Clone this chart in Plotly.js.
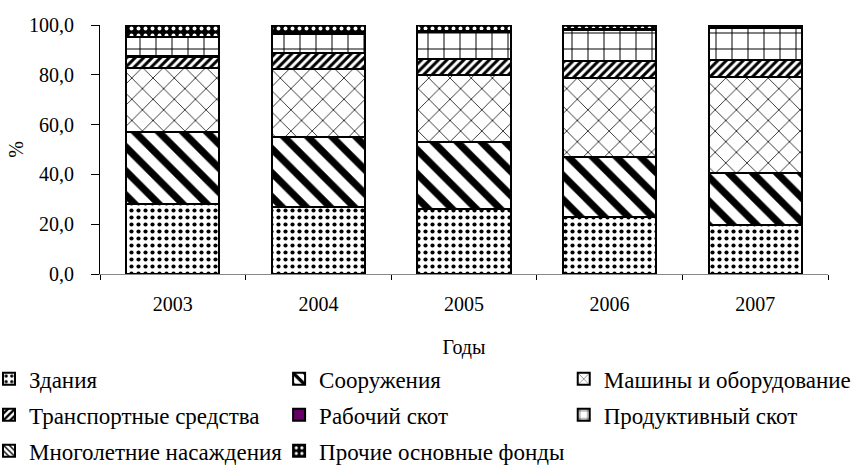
<!DOCTYPE html>
<html>
<head>
<meta charset="utf-8">
<script src="https://cdn.plot.ly/plotly-3.0.1.min.js"></script>
<style>html,body{margin:0;padding:0;background:#fff;overflow:hidden;}#chart{width:854px;height:472px;}</style>
</head>
<body>
<div id="chart"></div>
<script>
const years = ['2003', '2004', '2005', '2006', '2007'];
const seriesNames = ['Здания', 'Сооружения', 'Машины и оборудование', 'Транспортные средства',
  'Рабочий скот', 'Продуктивный скот', 'Многолетние насаждения', 'Прочие основные фонды'];
const zdaniya = [28.1, 26.8, 26.0, 22.7, 19.8];
const sooruzheniya = [28.9, 28.4, 26.9, 24.1, 20.7];
const mashiny = [25.9, 27.2, 27.0, 32.1, 38.8];
const transport = [4.4, 6.2, 6.5, 6.7, 6.7];
const rabochiySkot = [0.1, 0.1, 0.1, 0.1, 0.1];
const produktivnyySkot = [7.6, 7.7, 10.8, 12.4, 12.6];
const mnogoletnie = [0.3, 0.3, 0.3, 0.3, 0.3];
const prochie = [4.7, 3.3, 2.4, 1.6, 1.0];
const yTicks = [0, 20, 40, 60, 80, 100];

const values = [zdaniya, sooruzheniya, mashiny, transport, rabochiySkot, produktivnyySkot, mnogoletnie, prochie];
function pat(shape, size, solidity, fg, bg) {
  return {shape: shape, size: size, solidity: solidity, fgcolor: fg || '#000', bgcolor: bg || '#fff', fgopacity: 1, fillmode: 'overlay'};
}
const styles = [
  {color: '#ffffff', pattern: pat('.', 7, 0.28)},
  {color: '#ffffff', pattern: pat('\\', 17, 0.42)},
  {color: '#ffffff', pattern: pat('x', 15, 0.1)},
  {color: '#ffffff', pattern: pat('/', 6, 0.5)},
  {color: '#660066'},
  {color: '#ffffff', pattern: pat('+', 16, 0.12)},
  {color: '#ffffff', pattern: pat('\\', 5, 0.35)},
  {color: '#000000', pattern: pat('.', 7, 0.25, '#fff', '#000')}
];
// legend column of each series
const legendOf = ['legend', 'legend2', 'legend3', 'legend', 'legend2', 'legend3', 'legend', 'legend2'];

const traces = values.map((v, i) => ({
  type: 'bar',
  name: seriesNames[i],
  x: years,
  y: v,
  legend: legendOf[i],
  legendgroup: 'g' + i,
  marker: Object.assign({line: {color: '#000', width: 2}}, styles[i]),
  hoverinfo: 'name+y'
}));

const font = {family: 'Liberation Serif, Times New Roman, serif', size: 20, color: '#000'};
const legendFont = {family: 'Liberation Serif, Times New Roman, serif', size: 23, color: '#000'};
const legendBase = {
  orientation: 'v', traceorder: 'grouped', tracegroupgap: 3,
  y: -0.335, yanchor: 'top', xanchor: 'left',
  font: legendFont, bgcolor: 'rgba(0,0,0,0)', borderwidth: 0
};

const layout = {
  width: 854, height: 472,
  barmode: 'stack',
  bargap: 0.36,
  paper_bgcolor: '#fff', plot_bgcolor: '#fff',
  font: font,
  separators: ', ',
  margin: {l: 100, r: 26, t: 25, b: 198, autoexpand: false},
  xaxis: {
    type: 'category',
    showline: true, linecolor: '#888', linewidth: 1,
    ticks: 'outside', tickson: 'boundaries', ticklen: 5, tickcolor: '#000',
    ticklabelstandoff: 12,
    showgrid: false, zeroline: false,
    tickfont: font,
    title: {text: 'Годы', font: font, standoff: 25}
  },
  yaxis: {
    range: [0, 100],
    tickvals: yTicks,
    tickformat: '.1f',
    showline: true, linecolor: '#000', linewidth: 1,
    ticks: 'outside', ticklen: 8, tickcolor: '#000',
    ticklabelstandoff: 13,
    showgrid: false, zeroline: false,
    automargin: false,
    tickfont: font,
    title: {text: '%', font: font, standoff: 0}
  },
  legend: Object.assign({}, legendBase, {x: -0.1525}),
  legend2: Object.assign({}, legendBase, {x: 0.246}),
  legend3: Object.assign({}, legendBase, {x: 0.637}),
  showlegend: true
};

Plotly.newPlot('chart', traces, layout, {staticPlot: true});
</script>
</body>
</html>
